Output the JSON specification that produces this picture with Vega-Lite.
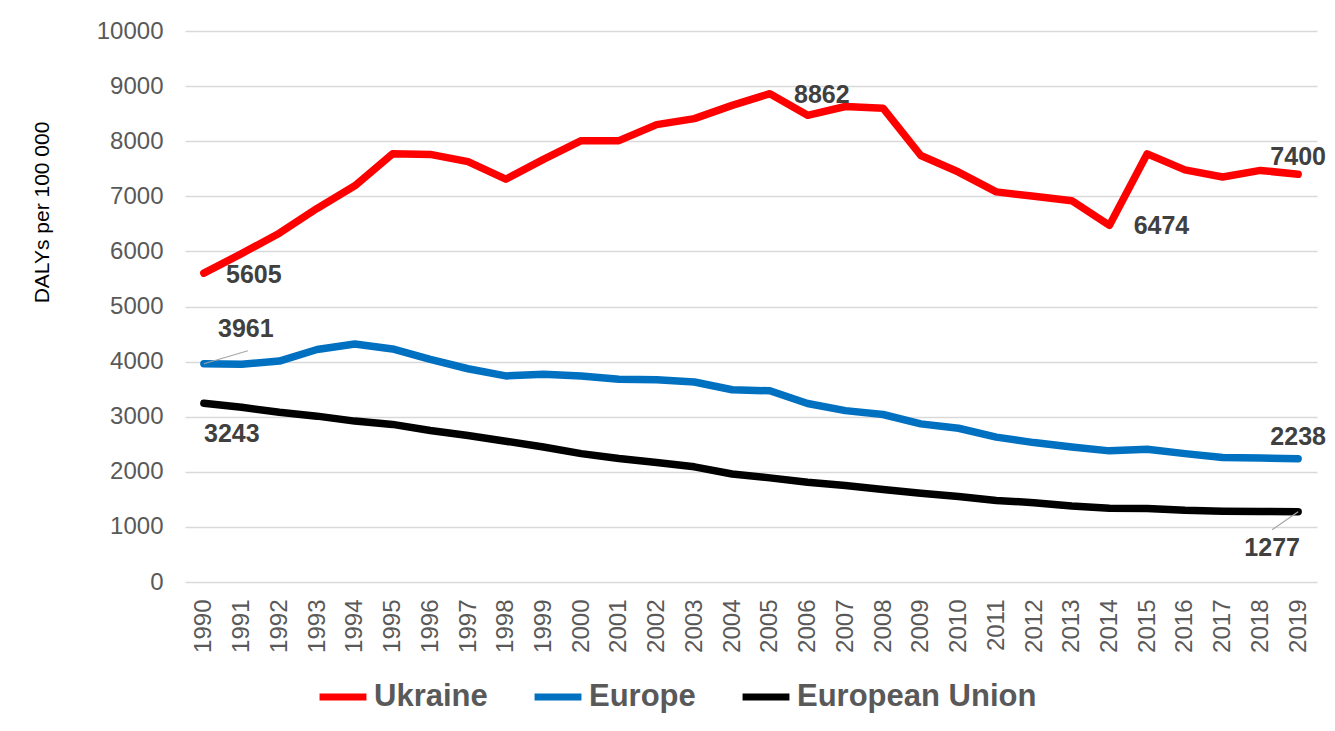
{
  "$schema": "https://vega.github.io/schema/vega-lite/v6.json",
  "autosize": "none",
  "width": 1132,
  "height": 551,
  "padding": {"left": 185, "top": 31, "right": 18, "bottom": 149},
  "background": "white",
  "config": {
    "font": "Liberation Sans",
    "view": {"stroke": null}
  },
  "data": {
    "values": [
      {"year": 1990, "series": "Ukraine", "value": 5605},
      {"year": 1991, "series": "Ukraine", "value": 5960},
      {"year": 1992, "series": "Ukraine", "value": 6330},
      {"year": 1993, "series": "Ukraine", "value": 6780},
      {"year": 1994, "series": "Ukraine", "value": 7190},
      {"year": 1995, "series": "Ukraine", "value": 7770},
      {"year": 1996, "series": "Ukraine", "value": 7760},
      {"year": 1997, "series": "Ukraine", "value": 7630},
      {"year": 1998, "series": "Ukraine", "value": 7310},
      {"year": 1999, "series": "Ukraine", "value": 7670},
      {"year": 2000, "series": "Ukraine", "value": 8010},
      {"year": 2001, "series": "Ukraine", "value": 8010},
      {"year": 2002, "series": "Ukraine", "value": 8300},
      {"year": 2003, "series": "Ukraine", "value": 8410},
      {"year": 2004, "series": "Ukraine", "value": 8650},
      {"year": 2005, "series": "Ukraine", "value": 8862},
      {"year": 2006, "series": "Ukraine", "value": 8470},
      {"year": 2007, "series": "Ukraine", "value": 8630},
      {"year": 2008, "series": "Ukraine", "value": 8600},
      {"year": 2009, "series": "Ukraine", "value": 7740},
      {"year": 2010, "series": "Ukraine", "value": 7440},
      {"year": 2011, "series": "Ukraine", "value": 7080},
      {"year": 2012, "series": "Ukraine", "value": 7000},
      {"year": 2013, "series": "Ukraine", "value": 6920},
      {"year": 2014, "series": "Ukraine", "value": 6474},
      {"year": 2015, "series": "Ukraine", "value": 7770},
      {"year": 2016, "series": "Ukraine", "value": 7480},
      {"year": 2017, "series": "Ukraine", "value": 7350},
      {"year": 2018, "series": "Ukraine", "value": 7470},
      {"year": 2019, "series": "Ukraine", "value": 7400},
      {"year": 1990, "series": "Europe", "value": 3961},
      {"year": 1991, "series": "Europe", "value": 3950},
      {"year": 1992, "series": "Europe", "value": 4010},
      {"year": 1993, "series": "Europe", "value": 4220},
      {"year": 1994, "series": "Europe", "value": 4320},
      {"year": 1995, "series": "Europe", "value": 4230},
      {"year": 1996, "series": "Europe", "value": 4040},
      {"year": 1997, "series": "Europe", "value": 3870},
      {"year": 1998, "series": "Europe", "value": 3740},
      {"year": 1999, "series": "Europe", "value": 3770},
      {"year": 2000, "series": "Europe", "value": 3740},
      {"year": 2001, "series": "Europe", "value": 3680},
      {"year": 2002, "series": "Europe", "value": 3670},
      {"year": 2003, "series": "Europe", "value": 3630},
      {"year": 2004, "series": "Europe", "value": 3490},
      {"year": 2005, "series": "Europe", "value": 3470},
      {"year": 2006, "series": "Europe", "value": 3240},
      {"year": 2007, "series": "Europe", "value": 3110},
      {"year": 2008, "series": "Europe", "value": 3040},
      {"year": 2009, "series": "Europe", "value": 2870},
      {"year": 2010, "series": "Europe", "value": 2790},
      {"year": 2011, "series": "Europe", "value": 2630},
      {"year": 2012, "series": "Europe", "value": 2530},
      {"year": 2013, "series": "Europe", "value": 2450},
      {"year": 2014, "series": "Europe", "value": 2380},
      {"year": 2015, "series": "Europe", "value": 2410},
      {"year": 2016, "series": "Europe", "value": 2330},
      {"year": 2017, "series": "Europe", "value": 2260},
      {"year": 2018, "series": "Europe", "value": 2250},
      {"year": 2019, "series": "Europe", "value": 2238},
      {"year": 1990, "series": "European Union", "value": 3243},
      {"year": 1991, "series": "European Union", "value": 3170},
      {"year": 1992, "series": "European Union", "value": 3080},
      {"year": 1993, "series": "European Union", "value": 3010},
      {"year": 1994, "series": "European Union", "value": 2920},
      {"year": 1995, "series": "European Union", "value": 2860},
      {"year": 1996, "series": "European Union", "value": 2750},
      {"year": 1997, "series": "European Union", "value": 2660},
      {"year": 1998, "series": "European Union", "value": 2555},
      {"year": 1999, "series": "European Union", "value": 2450},
      {"year": 2000, "series": "European Union", "value": 2330},
      {"year": 2001, "series": "European Union", "value": 2240},
      {"year": 2002, "series": "European Union", "value": 2170},
      {"year": 2003, "series": "European Union", "value": 2090},
      {"year": 2004, "series": "European Union", "value": 1960},
      {"year": 2005, "series": "European Union", "value": 1890},
      {"year": 2006, "series": "European Union", "value": 1810},
      {"year": 2007, "series": "European Union", "value": 1750},
      {"year": 2008, "series": "European Union", "value": 1680},
      {"year": 2009, "series": "European Union", "value": 1610},
      {"year": 2010, "series": "European Union", "value": 1550},
      {"year": 2011, "series": "European Union", "value": 1480},
      {"year": 2012, "series": "European Union", "value": 1440},
      {"year": 2013, "series": "European Union", "value": 1380},
      {"year": 2014, "series": "European Union", "value": 1340},
      {"year": 2015, "series": "European Union", "value": 1335},
      {"year": 2016, "series": "European Union", "value": 1300},
      {"year": 2017, "series": "European Union", "value": 1285},
      {"year": 2018, "series": "European Union", "value": 1280},
      {"year": 2019, "series": "European Union", "value": 1277}
    ]
  },
  "encoding": {
    "x": {
      "field": "year", "type": "ordinal",
      "scale": {"type": "point", "padding": 0.5},
      "axis": {
        "title": null, "labelAngle": -90, "labelFontSize": 24, "labelColor": "#595959",
        "labelPadding": 17, "domain": false, "ticks": false, "grid": false
      }
    },
    "y": {
      "field": "value", "type": "quantitative",
      "scale": {"domain": [0, 10000], "nice": false},
      "axis": {
        "title": "DALYs per 100 000", "titleFontSize": 21, "titleFontWeight": "normal", "titleColor": "#000000",
        "titleX": -143, "titleY": 181, "titleAngle": -90, "titleAlign": "center", "titleBaseline": "middle",
        "values": [0,1000,2000,3000,4000,5000,6000,7000,8000,9000,10000],
        "format": "d",
        "labelFontSize": 24, "labelColor": "#595959", "labelPadding": 22,
        "domain": false, "ticks": false,
        "gridColor": "#d9d9d9", "gridWidth": 1.5
      }
    }
  },
  "layer": [
    {
      "mark": {"type": "line", "strokeWidth": 7.5, "strokeCap": "round", "strokeJoin": "round"},
      "encoding": {
        "color": {
          "field": "series", "type": "nominal",
          "scale": {"domain": ["Ukraine", "Europe", "European Union"], "range": ["#ff0000", "#0070c0", "#000000"]},
          "legend": {
            "title": null, "orient": "none", "direction": "horizontal", "legendX": 131, "legendY": 639,
            "symbolType": "stroke", "symbolStrokeWidth": 7, "symbolSize": 2200,
            "labelFontSize": 31, "labelFontWeight": "bold", "labelColor": "#595959", "labelLimit": 400,
            "labelOffset": 4, "columnPadding": 32, "symbolOffset": 0
          }
        }
      }
    },
    {
      "transform": [{"filter": "datum.series == 'Europe' && datum.year == 1990"}],
      "mark": {"type": "rule", "color": "#a6a6a6", "strokeWidth": 1.2, "x2Offset": 44, "y2Offset": -13},
      "encoding": {"x2": {"field": "year"}, "y2": {"field": "value"}}
    },
    {
      "transform": [{"filter": "datum.series == 'European Union' && datum.year == 2019"}],
      "mark": {"type": "rule", "color": "#a6a6a6", "strokeWidth": 1.2, "x2Offset": -26, "y2Offset": 18},
      "encoding": {"x2": {"field": "year"}, "y2": {"field": "value"}}
    },
    {
      "transform": [{"filter": "datum.series == 'Ukraine' && datum.year == 1990"}],
      "mark": {"type": "text", "fontSize": 25, "fontWeight": "bold", "color": "#404040", "align": "center", "baseline": "middle", "dx": 50, "dy": 2},
      "encoding": {"text": {"field": "value", "type": "quantitative", "format": "d"}}
    },
    {
      "transform": [{"filter": "datum.series == 'Europe' && datum.year == 1990"}],
      "mark": {"type": "text", "fontSize": 25, "fontWeight": "bold", "color": "#404040", "align": "center", "baseline": "middle", "dx": 42, "dy": -35},
      "encoding": {"text": {"field": "value", "type": "quantitative", "format": "d"}}
    },
    {
      "transform": [{"filter": "datum.series == 'European Union' && datum.year == 1990"}],
      "mark": {"type": "text", "fontSize": 25, "fontWeight": "bold", "color": "#404040", "align": "center", "baseline": "middle", "dx": 28, "dy": 31},
      "encoding": {"text": {"field": "value", "type": "quantitative", "format": "d"}}
    },
    {
      "transform": [{"filter": "datum.series == 'Ukraine' && datum.year == 2005"}],
      "mark": {"type": "text", "fontSize": 25, "fontWeight": "bold", "color": "#404040", "align": "center", "baseline": "middle", "dx": 52, "dy": 1},
      "encoding": {"text": {"field": "value", "type": "quantitative", "format": "d"}}
    },
    {
      "transform": [{"filter": "datum.series == 'Ukraine' && datum.year == 2014"}],
      "mark": {"type": "text", "fontSize": 25, "fontWeight": "bold", "color": "#404040", "align": "center", "baseline": "middle", "dx": 52, "dy": 1},
      "encoding": {"text": {"field": "value", "type": "quantitative", "format": "d"}}
    },
    {
      "transform": [{"filter": "datum.series == 'Ukraine' && datum.year == 2019"}],
      "mark": {"type": "text", "fontSize": 25, "fontWeight": "bold", "color": "#404040", "align": "center", "baseline": "middle", "dx": 0, "dy": -17},
      "encoding": {"text": {"field": "value", "type": "quantitative", "format": "d"}}
    },
    {
      "transform": [{"filter": "datum.series == 'Europe' && datum.year == 2019"}],
      "mark": {"type": "text", "fontSize": 25, "fontWeight": "bold", "color": "#404040", "align": "center", "baseline": "middle", "dx": 0, "dy": -22},
      "encoding": {"text": {"field": "value", "type": "quantitative", "format": "d"}}
    },
    {
      "transform": [{"filter": "datum.series == 'European Union' && datum.year == 2019"}],
      "mark": {"type": "text", "fontSize": 25, "fontWeight": "bold", "color": "#404040", "align": "center", "baseline": "middle", "dx": -26, "dy": 36},
      "encoding": {"text": {"field": "value", "type": "quantitative", "format": "d"}}
    }
  ]
}
